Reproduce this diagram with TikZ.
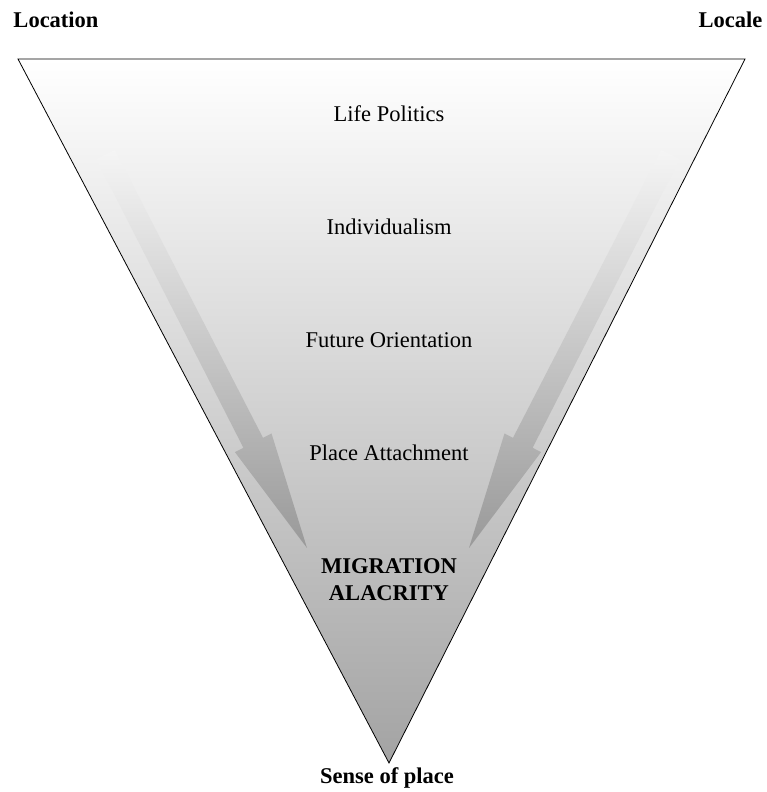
\documentclass[tikz,border=0pt]{standalone}
\usepackage{fontspec}
\setmainfont{Liberation Serif}

\begin{document}
\begin{tikzpicture}[x=1pt, y=1pt,
    lbl/.style={inner sep=0pt, anchor=base, font=\fontsize{22.5}{27}\selectfont},
    boldlbl/.style={lbl, font=\fontsize{22.5}{27}\selectfont\bfseries},
    flow/.style={top color=black!4, middle color=black!21, bottom color=black!40}]
        \useasboundingbox (0,0) rectangle (766,792);
        \coordinate (tl) at (18,733);
        \coordinate (tr) at (745,733);
        \coordinate (apex) at (389,29);
        \shade[top color=white, bottom color=black!36] (tl) -- (tr) -- (apex) -- cycle;

        % left arrow, mirrored for the right one
        \foreach \s/\off in {1/0, -1/776}
            \shade[flow, xshift=\off, xscale=\s] (114.8,642) -- (263,354.2) -- (271.5,358.5) -- (307,244)
                -- (234.9,339.9) -- (243.4,344.2) -- (96.2,633) -- cycle;

        \draw[line width=0.8pt, line join=miter] (tl) -- (tr) -- (apex) -- cycle;

        \node[boldlbl] (location) at (56,764) {Location};
        \node[boldlbl] (locale) at (730.5,764) {Locale};
        \node[lbl] (politics) at (389,670) {Life Politics};
        \node[lbl] (individ) at (389,557) {Individualism};
        \node[lbl] (future) at (389,444) {Future Orientation};
        \node[lbl] (attach) at (389,331) {Place Attachment};
        \node[boldlbl, anchor=center, align=center] (alacrity) at (389,212) {MIGRATION\\ALACRITY};
        \node[boldlbl] (sense) at (387,9) {Sense of place};
    \end{tikzpicture}
\end{document}
